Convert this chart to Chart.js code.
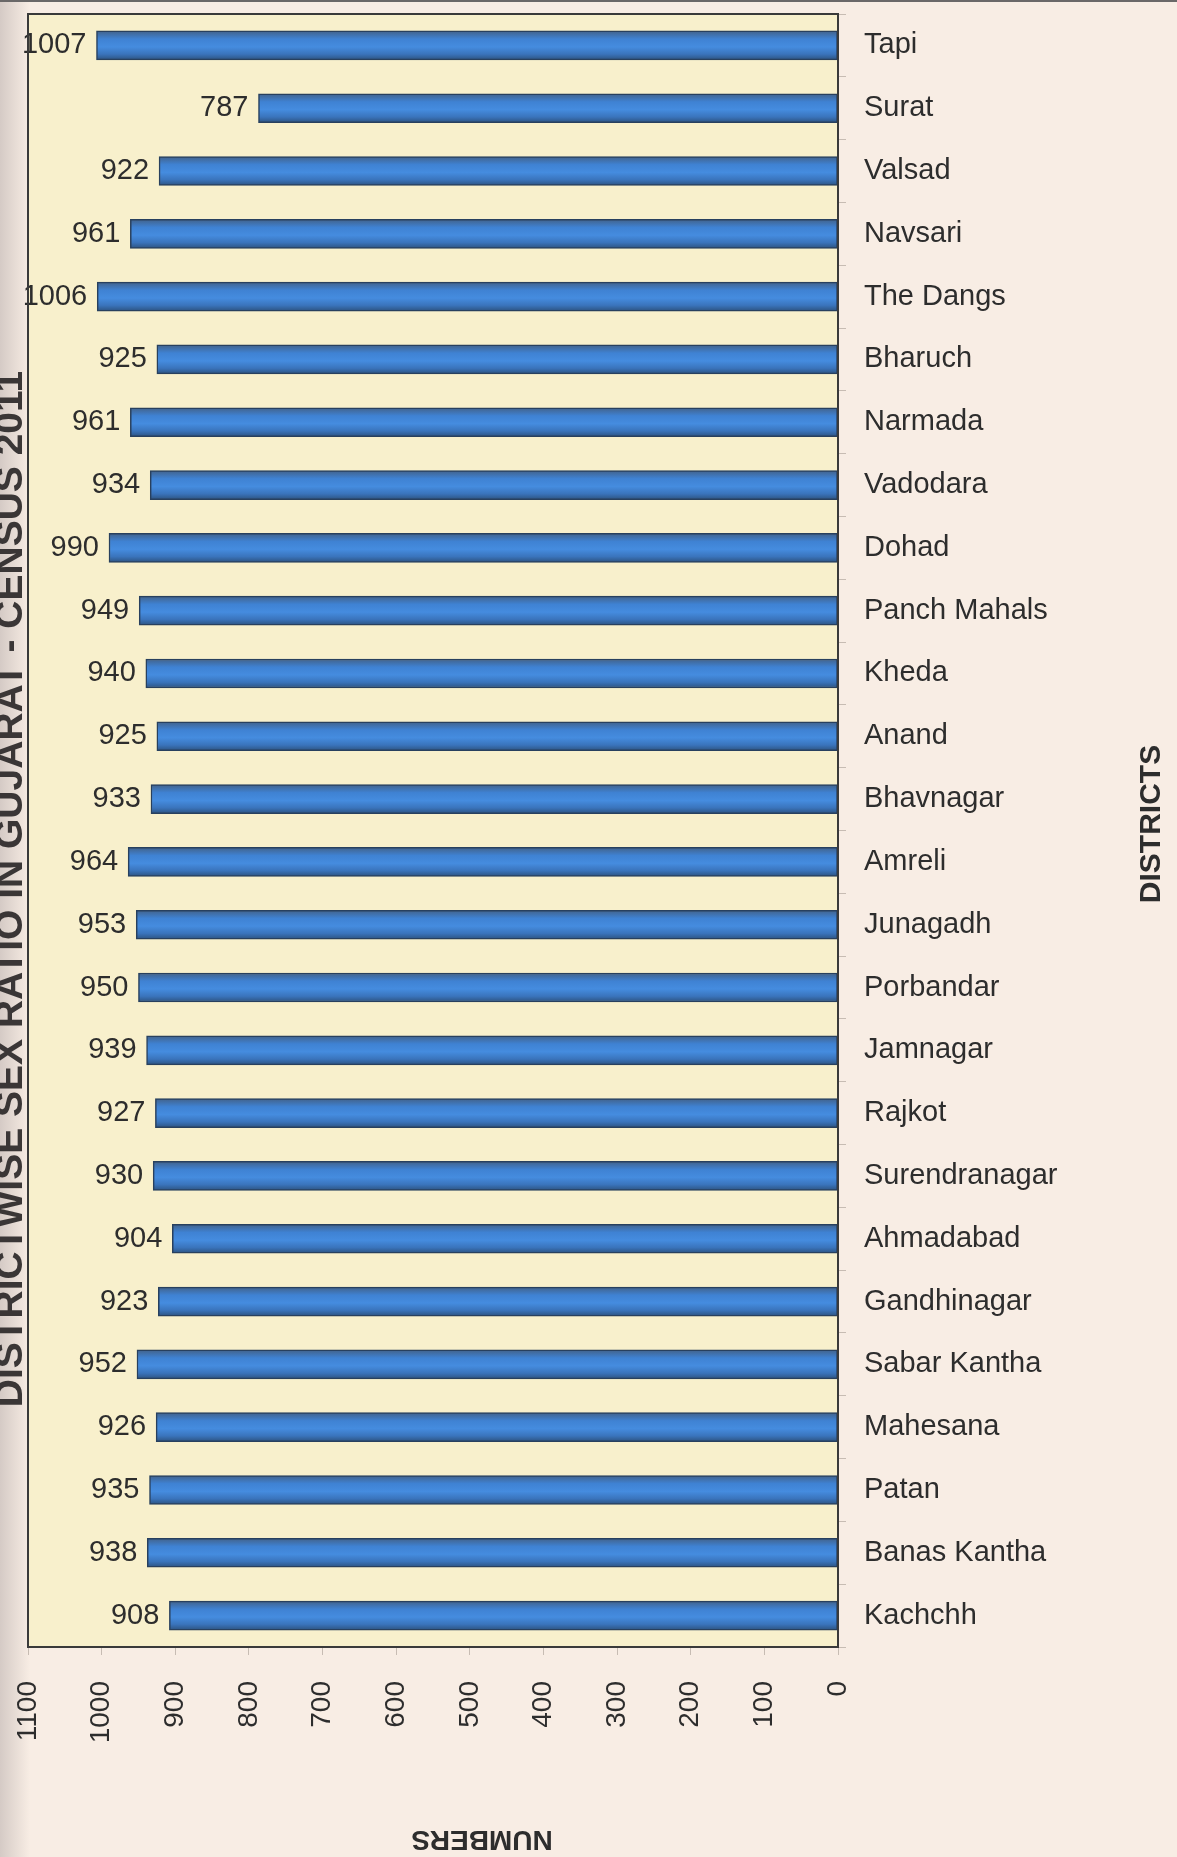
<!DOCTYPE html>
<html>
<head>
<meta charset="utf-8">
<script src="https://cdn.jsdelivr.net/npm/chart.js@4/dist/chart.umd.min.js"></script>
<style>
  html, body { margin: 0; padding: 0; background: #F8EDE4; }
  #wrap { width: 1177px; height: 1857px; position: relative; }
</style>
</head>
<body>
<div id="wrap"><canvas id="c" width="1177" height="1857"></canvas></div>
<script>
const chartTitle = 'DISTRICTWISE SEX RATIO IN GUJARAT - CENSUS 2011';
const xAxisTitle = 'NUMBERS';
const yAxisTitle = 'DISTRICTS';

const districts = [
  'Tapi', 'Surat', 'Valsad', 'Navsari', 'The Dangs', 'Bharuch', 'Narmada',
  'Vadodara', 'Dohad', 'Panch Mahals', 'Kheda', 'Anand', 'Bhavnagar',
  'Amreli', 'Junagadh', 'Porbandar', 'Jamnagar', 'Rajkot', 'Surendranagar',
  'Ahmadabad', 'Gandhinagar', 'Sabar Kantha', 'Mahesana', 'Patan',
  'Banas Kantha', 'Kachchh'
];
const sexRatio = [
  1007, 787, 922, 961, 1006, 925, 961,
  934, 990, 949, 940, 925, 933,
  964, 953, 950, 939, 927, 930,
  904, 923, 952, 926, 935,
  938, 908
];
const numberTicks = [0, 100, 200, 300, 400, 500, 600, 700, 800, 900, 1000, 1100];

const FONT = '"Liberation Sans", Arial, sans-serif';
const TEXT = '#2d2d2d';
const BAR_T = 29;

function barFill(ctx) {
  const chart = ctx.chart;
  const ys = chart.scales && chart.scales.y;
  if (!ys || ctx.dataIndex === undefined || !chart.chartArea) return '#3f84d6';
  const c = ys.getPixelForValue(ctx.dataIndex);
  const h = BAR_T / 2;
  const g = chart.ctx.createLinearGradient(0, c - h, 0, c + h);
  g.addColorStop(0, '#42628a');
  g.addColorStop(0.28, '#3f82d3');
  g.addColorStop(0.55, '#458cdf');
  g.addColorStop(0.8, '#3a74bc');
  g.addColorStop(1, '#2d5380');
  return g;
}

const backdrop = {
  id: 'backdrop',
  beforeDraw(chart) {
    const { ctx, chartArea: a, width, height } = chart;
    ctx.save();
    ctx.fillStyle = '#F8EDE4';
    ctx.fillRect(0, 0, width, height);
    const lg = ctx.createLinearGradient(0, 0, 30, 0);
    lg.addColorStop(0, 'rgba(170,160,160,0.45)');
    lg.addColorStop(1, 'rgba(170,160,160,0)');
    ctx.fillStyle = lg;
    ctx.fillRect(0, 0, 30, height);
    ctx.fillStyle = '#6a6868';
    ctx.fillRect(0, 0, width, 2);
    ctx.fillStyle = '#F8F0CC';
    ctx.fillRect(a.left, a.top, a.right - a.left, a.bottom - a.top);
    ctx.restore();
  },
  afterDraw(chart) {
    const { ctx, chartArea: a } = chart;
    ctx.save();
    ctx.strokeStyle = '#3a3a3a';
    ctx.lineWidth = 2;
    ctx.strokeRect(a.left, a.top, a.right - a.left, a.bottom - a.top);
    ctx.fillStyle = TEXT;
    // chart title, rotated on the left edge
    ctx.save();
    ctx.translate(22, 889);
    ctx.rotate(-Math.PI / 2);
    ctx.font = 'bold 39px ' + FONT;
    ctx.textAlign = 'center';
    ctx.textBaseline = 'alphabetic';
    ctx.fillStyle = '#3a3636';
    ctx.fillText(chartTitle, 0, 0);
    ctx.restore();
    // y axis title
    ctx.save();
    ctx.translate(1160, 824);
    ctx.rotate(-Math.PI / 2);
    ctx.font = 'bold 30px ' + FONT;
    ctx.textAlign = 'center';
    ctx.textBaseline = 'alphabetic';
    ctx.fillText(yAxisTitle, 0, 0);
    ctx.restore();
    // x axis title, upside down
    ctx.save();
    ctx.translate(482, 1831);
    ctx.rotate(Math.PI);
    ctx.font = 'bold 28px ' + FONT;
    ctx.textAlign = 'center';
    ctx.textBaseline = 'alphabetic';
    ctx.fillText(xAxisTitle, 0, 0);
    ctx.restore();
    ctx.restore();
  }
};

const valueLabels = {
  id: 'valueLabels',
  afterDatasetsDraw(chart) {
    const { ctx } = chart;
    const meta = chart.getDatasetMeta(0);
    ctx.save();
    ctx.font = '29px ' + FONT;
    ctx.fillStyle = TEXT;
    ctx.textAlign = 'right';
    ctx.textBaseline = 'middle';
    meta.data.forEach((el, i) => {
      ctx.fillText(String(sexRatio[i]), el.x - 10, el.y);
    });
    ctx.restore();
  }
};

new Chart(document.getElementById('c'), {
  type: 'bar',
  data: {
    labels: districts,
    datasets: [{
      data: sexRatio,
      backgroundColor: barFill,
      borderColor: '#28405e',
      borderWidth: 1.5,
      borderSkipped: false,
      barThickness: BAR_T
    }]
  },
  options: {
    indexAxis: 'y',
    responsive: false,
    animation: false,
    layout: { padding: { top: 14, left: 28, right: 0, bottom: 0 } },
    plugins: { legend: { display: false }, tooltip: { enabled: false }, title: { display: false } },
    scales: {
      x: {
        type: 'linear',
        position: 'bottom',
        reverse: true,
        min: 0,
        max: 1100,
        afterBuildTicks(scale) { scale.ticks = numberTicks.map(v => ({ value: v })); },
        afterFit(scale) { scale.height = 210; scale.paddingLeft = 0; scale.paddingRight = 0; },
        ticks: {
          minRotation: 90, maxRotation: 90,
          autoSkip: false,
          padding: 26,
          color: TEXT,
          font: { family: FONT, size: 28 },
          callback: (v) => String(v)
        },
        grid: { drawOnChartArea: false, drawTicks: true, tickLength: 8, color: 'rgba(150,140,130,0.5)' },
        border: { display: false }
      },
      y: {
        type: 'category',
        position: 'right',
        afterFit(scale) { scale.width = 339; scale.paddingTop = 0; scale.paddingBottom = 0; },
        ticks: {
          padding: 18,
          color: TEXT,
          font: { family: FONT, size: 29 }
        },
        grid: { drawOnChartArea: false, drawTicks: true, tickLength: 8, color: 'rgba(150,140,130,0.5)' },
        border: { display: false }
      }
    }
  },
  plugins: [backdrop, valueLabels]
});
</script>
</body>
</html>
